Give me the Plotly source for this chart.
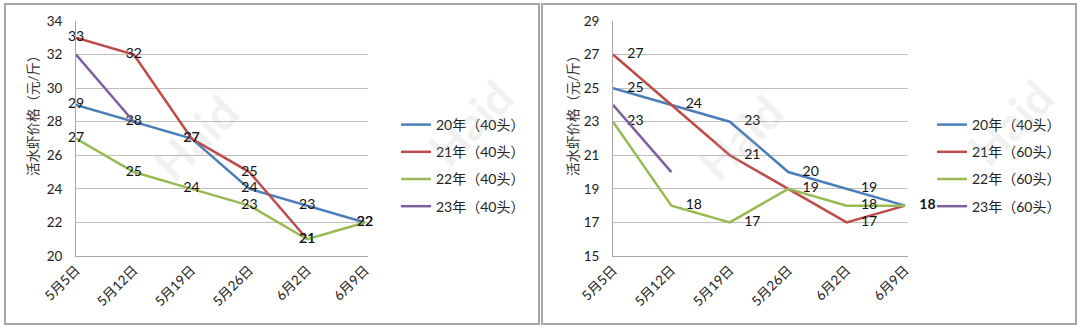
import plotly.graph_objects as go

categories = ["5月5日", "5月12日", "5月19日", "5月26日", "6月2日", "6月9日"]

left_names = ["20年（40头）", "21年（40头）", "22年（40头）", "23年（40头）"]
left_values = {
    "20年（40头）": [29, 28, 27, 24, 23, 22],
    "21年（40头）": [33, 32, 27, 25, 21, None],
    "22年（40头）": [27, 25, 24, 23, 21, 22],
    "23年（40头）": [32, 28, None, None, None, None],
}
left_labels = {
    "20年（40头）": ["29", "28", "27", "24", "23", "22"],
    "21年（40头）": ["33", "32", "27", "25", "21", ""],
    "22年（40头）": ["27", "25", "24", "23", "21", "22"],
    "23年（40头）": ["", "", "", "", "", ""],
}

right_names = ["20年（40头）", "21年（60头）", "22年（60头）", "23年（60头）"]
right_values = {
    "20年（40头）": [25, 24, 23, 20, 19, 18],
    "21年（60头）": [27, 24, 21, 19, 17, 18],
    "22年（60头）": [23, 18, 17, 19, 18, 18],
    "23年（60头）": [24, 20, None, None, None, None],
}
right_labels = {
    "20年（40头）": ["25", "24", "23", "20", "19", ""],
    "21年（60头）": ["27", "", "21", "", "17", ""],
    "22年（60头）": ["23", "18", "17", "19", "18", ""],
    "23年（60头）": ["", "", "", "", "", ""],
}
right_end_label = "18"

y_title = "活水虾价格（元/斤）"
watermark = "Haid"

colors = ["#4A7EBB", "#BE4B48", "#98B954", "#7D60A0"]
FONT = "Lato, 'Noto Sans CJK SC', sans-serif"
W, H = 1080, 328

def px(x):
    return x / W

def py(y):
    return 1 - y / H

fig = go.Figure()

for i, n in enumerate(left_names):
    fig.add_trace(go.Scatter(
        x=categories, y=left_values[n], name=n, mode="lines+text",
        text=left_labels[n], textposition="middle center", cliponaxis=False,
        textfont=dict(size=14, color="#111", family=FONT),
        line=dict(color=colors[i], width=2.5),
        xaxis="x", yaxis="y", legend="legend", legendgroup="L" + str(i),
        hoverinfo="skip",
    ))

for i, n in enumerate(right_names):
    labs = ["    " + t if t else "" for t in right_labels[n]]
    if i == 0:
        labs[-1] = "    <b>" + right_end_label + "</b>"
    fig.add_trace(go.Scatter(
        x=categories, y=right_values[n], name=n, mode="lines+text",
        text=labs, textposition="middle right", cliponaxis=False,
        textfont=dict(size=14, color="#111", family=FONT),
        line=dict(color=colors[i], width=2.5),
        xaxis="x2", yaxis="y2", legend="legend2", legendgroup="R" + str(i),
        hoverinfo="skip",
    ))

axis_common = dict(
    showline=True, linecolor="#A6A6A6", linewidth=1,
    tickfont=dict(size=13.5, color="#222", family=FONT),
    zeroline=False, ticks="", automargin=False,
)

wm_font = dict(size=46, color="rgba(170,170,170,0.18)", family="Lato, sans-serif")
wm_positions = [(195, 137), (470, 122), (740, 137), (1010, 122)]

annotations = [
    dict(text=y_title, x=px(33), y=py(112), xref="paper", yref="paper",
         xanchor="center", yanchor="middle",
         textangle=-90, showarrow=False, font=dict(size=13.5, color="#333", family=FONT)),
    dict(text=y_title, x=px(573), y=py(112), xref="paper", yref="paper",
         xanchor="center", yanchor="middle",
         textangle=-90, showarrow=False, font=dict(size=13.5, color="#333", family=FONT)),
]
for (wx, wy) in wm_positions:
    annotations.append(dict(text="<b>" + watermark + "</b>", x=px(wx), y=py(wy),
                            xref="paper", yref="paper", textangle=-45,
                            xanchor="center", yanchor="middle",
                            showarrow=False, font=wm_font))

fig.update_layout(
    width=W, height=H,
    margin=dict(l=0, r=0, t=0, b=0, autoexpand=False),
    paper_bgcolor="white", plot_bgcolor="white",
    font=dict(family=FONT, color="#222"),
    showlegend=True,
    xaxis=dict(domain=[px(76), px(368)], type="category", range=[0, 5.052],
               tickangle=-45, showgrid=False, anchor="y", **axis_common),
    yaxis=dict(domain=[py(256), py(21)], range=[20, 34], tick0=20, dtick=2,
               showgrid=True, gridcolor="#BFBFBF", gridwidth=1, anchor="x",
               ticklabelstandoff=10, **axis_common),
    xaxis2=dict(domain=[px(613), px(908)], type="category", range=[0, 5.051],
                tickangle=-45, showgrid=False, anchor="y2", **axis_common),
    yaxis2=dict(domain=[py(256), py(21)], range=[15, 29], tick0=15, dtick=2,
                showgrid=True, gridcolor="#BFBFBF", gridwidth=1, anchor="x2",
                ticklabelstandoff=10, **axis_common),
    legend=dict(x=px(396), y=py(109), xanchor="left", yanchor="top",
                font=dict(size=14, color="#222", family=FONT),
                itemwidth=30, tracegroupgap=6, bgcolor="rgba(0,0,0,0)",
                itemclick=False),
    legend2=dict(x=px(932), y=py(109), xanchor="left", yanchor="top",
                 font=dict(size=14, color="#222", family=FONT),
                 itemwidth=30, tracegroupgap=6, bgcolor="rgba(0,0,0,0)",
                 itemclick=False),
    shapes=[
        dict(type="rect", xref="paper", yref="paper", x0=px(5), x1=px(539),
             y0=py(324), y1=py(4), line=dict(color="#A6A6A6", width=2),
             layer="below"),
        dict(type="rect", xref="paper", yref="paper", x0=px(542), x1=px(1076),
             y0=py(324), y1=py(4), line=dict(color="#A6A6A6", width=2),
             layer="below"),
    ],
    annotations=annotations,
)

fig.write_html("out.html")
